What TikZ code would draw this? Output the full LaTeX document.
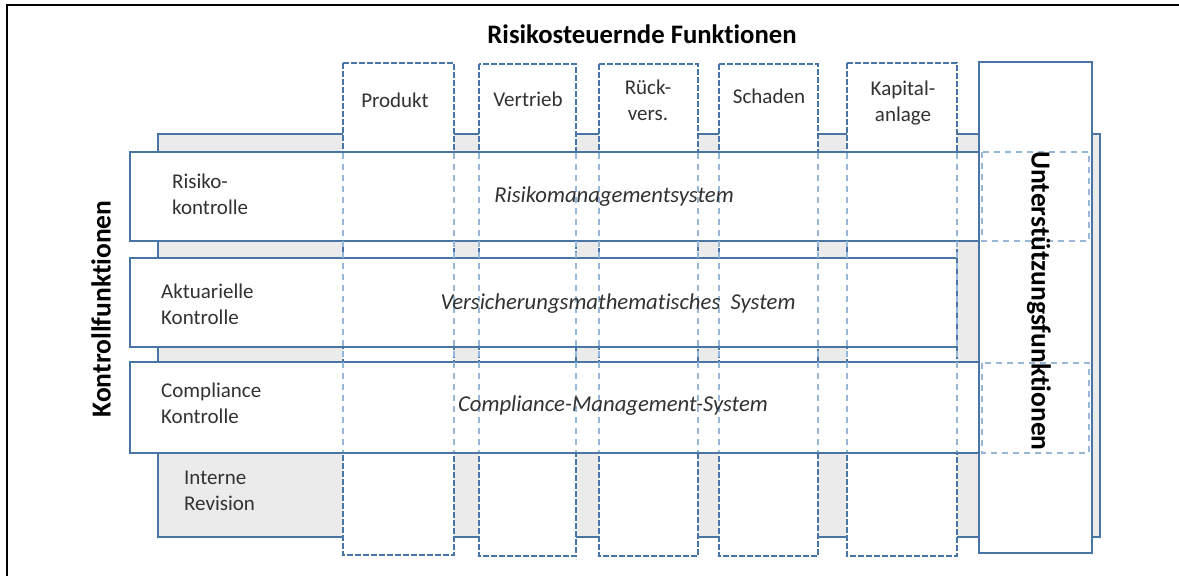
\documentclass[tikz,border=0pt]{standalone}
\usepackage{fontspec}
\setmainfont{Carlito}[Ligatures={NoCommon}]
\definecolor{bordblue}{RGB}{72,117,166}
\definecolor{lightblue}{RGB}{150,183,215}
\definecolor{bggray}{RGB}{235,235,235}
\definecolor{txtgray}{RGB}{50,50,50}
\begin{document}
\begin{tikzpicture}[x=1pt,y=-1pt,
  solidbox/.style={draw=bordblue,line width=1.3pt,fill=white},
  colbox/.style={draw=bordblue,line width=1.3pt,fill=white,dash pattern=on 6pt off 2pt},
  overdash/.style={draw=lightblue,line width=1.1pt,dash pattern=on 6pt off 5pt},
  lbl/.style={font=\fontsize{21}{26}\selectfont,text=txtgray,inner sep=0pt,align=center},
  rowlbl/.style={font=\fontsize{21}{26}\selectfont,text=txtgray,inner sep=0pt,align=left,anchor=west},
  syslbl/.style={font=\fontsize{22.7}{26}\selectfont\itshape,text=txtgray,inner sep=0pt},
  headlbl/.style={text=black,inner sep=0pt}]
\useasboundingbox (0,0) rectangle (1179,576);
\fill[white] (0,0) rectangle (1179,576);
% frame
\draw[black,line width=2.2pt] (7,576) -- (7,5) -- (1179,5);
% gray background
\draw[draw=bordblue,line width=1.3pt,fill=bggray] (158,134) rectangle (1100,537);
% columns
\draw[colbox] (343,63) rectangle (454,555);
\draw[colbox] (479,64) rectangle (576,556);
\draw[colbox] (599,64) rectangle (698,556);
\draw[colbox] (719,64) rectangle (818,556);
\draw[colbox] (847,63) rectangle (957,556);
% rows
\draw[solidbox] (130,152) rectangle (980,241);
\draw[solidbox] (130,258) rectangle (957,347);
\draw[solidbox] (130,362) rectangle (980,453);
% support column
\draw[solidbox] (979,62) rectangle (1092,553);
\draw[overdash] (982,152) rectangle (1089,241);
\draw[overdash] (982,363) rectangle (1089,453);
% column edges through rows
\foreach \x in {343,454,479,576,599,698,719,818,847,957}{
  \draw[overdash] (\x,153) -- (\x,452);
}
% texts
\node[headlbl,font=\fontsize{26.7}{30}\selectfont\bfseries] (title) at (642,34) {Risikosteuernde Funktionen};
\node[lbl] (produkt) at (395,100) {Produkt};
\node[lbl] (vertrieb) at (528,99) {Vertrieb};
\node[lbl] (rueck) at (648,100) {Rück-\\vers.};
\node[lbl] (schaden) at (769,96) {Schaden};
\node[lbl] (kapital) at (903,103) {Kapital-\\anlage};
\node[rowlbl] (risiko) at (172,194) {Risiko-\\kontrolle};
\node[rowlbl] (aktuar) at (161,304) {Aktuarielle\\Kontrolle};
\node[rowlbl] (compl) at (161,403) {Compliance\\Kontrolle};
\node[rowlbl] (revision) at (184,491) {Interne\\Revision};
\node[syslbl] (rms) at (614,197) {Risikomanagementsystem};
\node[syslbl] (vms) at (618,304) {Versicherungsmathematisches\ \ System};
\node[syslbl] (cms) at (613,406) {Compliance-Management-System};
\node[headlbl,rotate=90,font=\fontsize{27.5}{30}\selectfont\bfseries] (kontroll) at (101,309) {Kontrollfunktionen};
\node[headlbl,rotate=-90,font=\fontsize{27.5}{30}\selectfont\bfseries] (unterst) at (1039,301) {Unterstützungsfunktionen};
\end{tikzpicture}
\end{document}
